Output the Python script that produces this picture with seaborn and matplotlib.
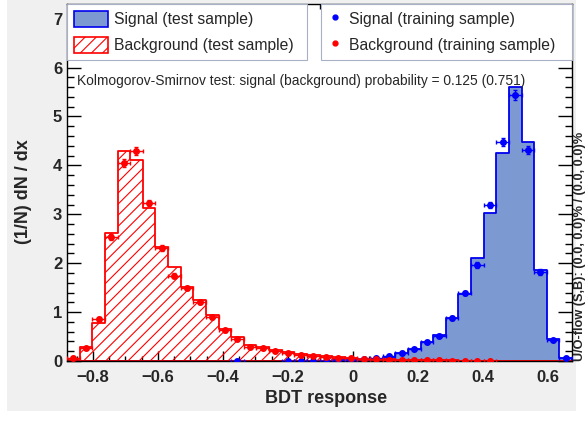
import numpy as np
import pandas as pd
import matplotlib
matplotlib.use("Agg")
import matplotlib.pyplot as plt
import seaborn as sns
from matplotlib.patches import Rectangle, Patch
from matplotlib.lines import Line2D
from matplotlib.ticker import MultipleLocator

# BDT response range and binning (40 bins, TMVA style)
x_min, x_max = -0.88, 0.674
n_bins = 40

# normalised histograms, one value per bin
sig_test = [0, 0, 0, 0, 0, 0, 0, 0, 0, 0,
            0, 0, 0, 0, 0, 0, 0, 0.01, 0.01, 0.01,
            0.01, 0.015, 0.02, 0.03, 0.05, 0.09, 0.16, 0.24, 0.38, 0.53,
            0.88, 1.37, 2.11, 3.03, 4.25, 5.60, 4.48, 1.86, 0.45, 0.07]
bkg_test = [0.05, 0.28, 0.78, 2.62, 4.30, 4.12, 3.13, 2.33, 1.92, 1.52,
            1.24, 0.94, 0.66, 0.50, 0.33, 0.28, 0.23, 0.18, 0.14, 0.12,
            0.10, 0.08, 0.06, 0.05, 0.04, 0.035, 0.03, 0.025, 0.02, 0.02,
            0.015, 0.01, 0, 0, 0, 0, 0, 0, 0, 0]

sig_train = [0, 0, 0, 0, 0, 0, 0, 0, 0, 0,
             0, 0, 0, 0.01, 0, 0, 0, 0.01, 0.01, 0.01,
             0.01, 0.015, 0.02, 0.04, 0.06, 0.10, 0.16, 0.25, 0.38, 0.52,
             0.88, 1.39, 1.96, 3.19, 4.48, 5.44, 4.31, 1.82, 0.43, 0.06]
sig_train_err = [0, 0, 0, 0, 0, 0, 0, 0, 0, 0,
                 0, 0, 0, 0.01, 0, 0, 0, 0.01, 0.01, 0.01,
                 0.01, 0.01, 0.01, 0.01, 0.01, 0.012, 0.015, 0.015, 0.02, 0.025,
                 0.035, 0.045, 0.055, 0.07, 0.085, 0.10, 0.085, 0.055, 0.025, 0.01]
bkg_train = [0.06, 0.27, 0.86, 2.54, 4.05, 4.29, 3.23, 2.31, 1.74, 1.49,
             1.21, 0.90, 0.63, 0.45, 0.29, 0.27, 0.21, 0.16, 0.13, 0.11,
             0.09, 0.07, 0.06, 0.05, 0.04, 0.03, 0.03, 0.02, 0.02, 0.015,
             0.01, 0.01, 0.01, 0.005, 0, 0, 0, 0, 0, 0]
bkg_train_err = [0.01, 0.02, 0.035, 0.06, 0.08, 0.085, 0.07, 0.06, 0.05, 0.045,
                 0.04, 0.035, 0.03, 0.025, 0.02, 0.02, 0.015, 0.015, 0.012, 0.012,
                 0.01, 0.01, 0.01, 0.01, 0.01, 0.01, 0.01, 0.01, 0.01, 0.01,
                 0.01, 0.01, 0.01, 0.01, 0, 0, 0, 0, 0, 0]

x_ticks = [-0.8, -0.6, -0.4, -0.2, 0, 0.2, 0.4, 0.6]
x_tick_labels = ["\u22120.8", "\u22120.6", "\u22120.4", "\u22120.2", "0", "0.2", "0.4", "0.6"]
y_ticks = [0, 1, 2, 3, 4, 5, 6, 7]

sig_fill = "#7d99d1"
sig_line = "#0000ee"
bkg_line = "#ff0000"

sns.set_style("ticks")
plt.rcParams['font.family'] = ['Liberation Sans', 'DejaVu Sans']
plt.rcParams['hatch.color'] = bkg_line
plt.rcParams['hatch.linewidth'] = 0.8

edges = np.linspace(x_min, x_max, n_bins + 1)
centers = 0.5 * (edges[:-1] + edges[1:])
half_w = 0.5 * (edges[1] - edges[0])

df = pd.DataFrame({"x": centers, "sig_test": sig_test, "bkg_test": bkg_test})

W, H = 587, 422
fig = plt.figure(figsize=(W / 100, H / 100), dpi=100)
fig.patch.set_facecolor("white")
fig.add_artist(Rectangle((7 / W, 11 / H), (576 - 7) / W, 1 - 11 / H,
                         transform=fig.transFigure, facecolor="#f0f0f0",
                         edgecolor="none", zorder=-10))
ax = fig.add_axes([67 / W, 1 - 361 / H, (572 - 67) / W, (361 - 4) / H])

# test samples as filled / hatched step histograms
sns.histplot(data=df, x="x", weights="sig_test", bins=n_bins, binrange=(x_min, x_max),
             element="step", fill=True, color=sig_fill, alpha=1, ax=ax)
poly = ax.collections[-1]
poly.set_facecolor(sig_fill)
poly.set_edgecolor(sig_line)
poly.set_linewidth(1.3)

sns.histplot(data=df, x="x", weights="bkg_test", bins=n_bins, binrange=(x_min, x_max),
             element="step", fill=True, color=bkg_line, alpha=1, ax=ax)
poly = ax.collections[-1]
poly.set_facecolor("none")
poly.set_edgecolor(bkg_line)
poly.set_hatch("///")
poly.set_linewidth(1.3)

# training samples as points with errors
for vals, errs, col in [(sig_train, sig_train_err, "blue"),
                        (bkg_train, bkg_train_err, "red")]:
    vals = np.array(vals)
    errs = np.array(errs)
    m = vals > 0
    ax.errorbar(centers[m], vals[m], xerr=half_w, yerr=errs[m], fmt="o",
                color=col, ms=4, elinewidth=1, capsize=1.5, capthick=1, zorder=5)

ax.set_xlim(x_min, x_max)
ax.set_ylim(0, 7.3)
ax.set_xticks(x_ticks)
ax.set_xticklabels(x_tick_labels)
ax.set_yticks(y_ticks)
ax.xaxis.set_minor_locator(MultipleLocator(0.05))
ax.yaxis.set_minor_locator(MultipleLocator(0.2))
ax.tick_params(which="both", direction="in", top=True, right=True, width=1, color="black")
ax.tick_params(axis="x", which="major", length=7, pad=6.5)
ax.tick_params(axis="x", which="minor", length=3.5)
ax.tick_params(axis="y", which="major", length=10, pad=3.5)
ax.tick_params(axis="y", which="minor", length=5)
for lab in ax.get_xticklabels() + ax.get_yticklabels():
    lab.set_fontsize(12)
    lab.set_fontweight("bold")
for sp in ax.spines.values():
    sp.set_linewidth(1)
    sp.set_color("black")

ax.set_xlabel("BDT response", fontsize=13, fontweight="bold")
ax.set_ylabel("(1/N) dN / dx", fontsize=13, fontweight="bold")
ax.xaxis.set_label_coords(0.513, -0.082)
ax.yaxis.set_label_coords(-0.07, 0.475)

# legends
leg_font = 11.3
h1 = [Patch(facecolor=sig_fill, edgecolor=sig_line, linewidth=1.2),
      Patch(facecolor="white", edgecolor=bkg_line, hatch="///", linewidth=1.2)]
leg1 = ax.legend(h1, ["Signal (test sample)", "Background (test sample)"],
                 loc="upper left", bbox_to_anchor=(0, 0.843, 0.475, 0.157),
                 mode="expand", borderaxespad=0, fancybox=False, framealpha=1,
                 edgecolor="#a8b0c8", fontsize=leg_font, handlelength=2.2,
                 handleheight=1.25, labelspacing=0.6, borderpad=0.42,
                 handletextpad=0.35)
leg1.get_frame().set_linewidth(0.8)
ax.add_artist(leg1)
h2 = [Line2D([], [], marker="o", ls="none", color="blue", ms=3.5),
      Line2D([], [], marker="o", ls="none", color="red", ms=3.5)]
leg2 = ax.legend(h2, ["Signal (training sample)", "Background (training sample)"],
                 loc="upper left", bbox_to_anchor=(0.503, 0.843, 0.497, 0.157),
                 mode="expand", borderaxespad=0, fancybox=False, framealpha=1,
                 edgecolor="#a8b0c8", fontsize=leg_font, handlelength=1.0,
                 handleheight=1.25, labelspacing=0.6, borderpad=0.42,
                 handletextpad=0.35)
leg2.get_frame().set_linewidth(0.8)

ax.text(0.02, 0.784, "Kolmogorov-Smirnov test: signal (background) probability = 0.125 (0.751)",
        transform=ax.transAxes, fontsize=9.9, va="center", ha="left")

fig.text(580 / W, 1 - 361 / H, "U/O-flow (S,B): (0.0, 0.0)% / (0.0, 0.0)%",
         rotation=90, va="bottom", ha="center", fontsize=9.2, fontweight="bold")

fig.savefig("out.png", dpi=100)
